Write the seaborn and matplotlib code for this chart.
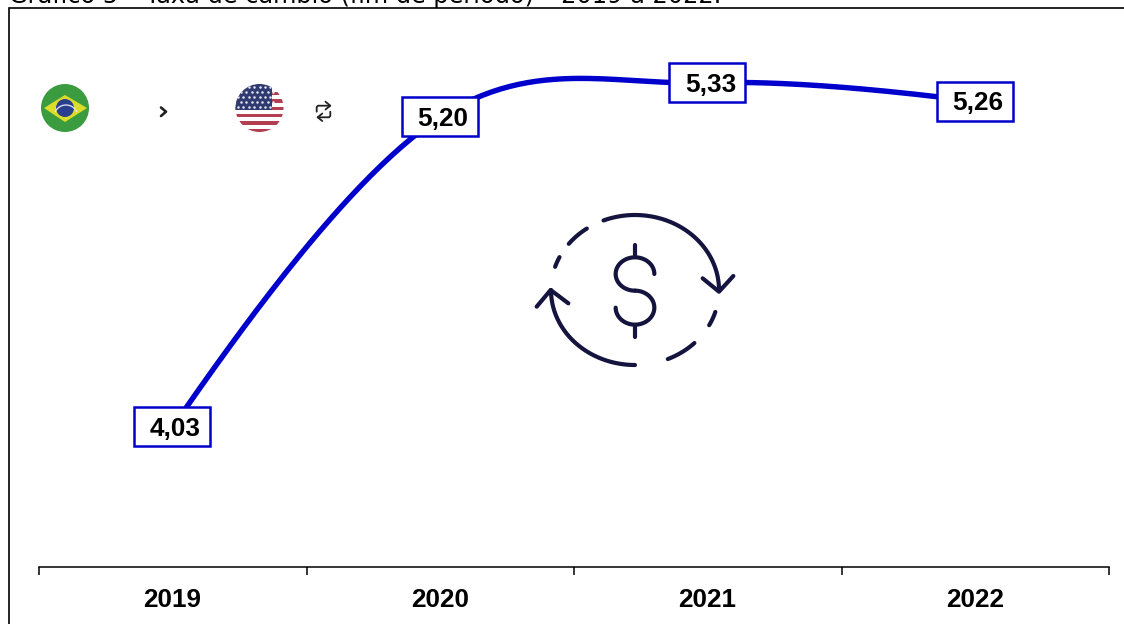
import numpy as np
import pandas as pd
import seaborn as sns
import matplotlib
matplotlib.use("Agg")
import matplotlib.pyplot as plt
from matplotlib.patches import Rectangle, Circle, Polygon
from matplotlib.transforms import Affine2D

years = ["2019", "2020", "2021", "2022"]
rates = [4.03, 5.20, 5.33, 5.26]
labels = ["4,03", "5,20", "5,33", "5,26"]
title = "Gráfico 5 – Taxa de câmbio (fim de período) – 2019 a 2022."

BLUE = "#0000CC"
NAVY = "#14143F"
W, H = 1124, 624

sns.set_theme(style="white")
plt.rcParams["font.family"] = ["Liberation Sans", "DejaVu Sans"]

fig = plt.figure(figsize=(W / 100, H / 100), dpi=100, facecolor="white")
ax = fig.add_axes([39 / W, (H - 567) / H, (1109 - 39) / W, (567 - 7) / H])
ax.set_xlim(0, 4)
ax.set_ylim(3.5, 3.5 + 560 / 264.6)

# positions of the categories; the line is smoothed the way a spreadsheet does it
xpos = np.arange(len(years)) + 0.5
P = ax.transData.transform(np.column_stack([xpos, rates]))  # smooth in display space
n = len(P)
K = 0.175
A = 0.33
sx, sy = [], []
for i in range(n - 1):
    p1, p2 = P[i], P[i + 1]
    c1 = p1 + K * (p2 - P[i - 1]) if i > 0 else None
    c2 = p2 - K * (P[i + 2] - p1) if i < n - 2 else None
    if c1 is None:
        c1 = p1 + A * (c2 - p1)
    if c2 is None:
        c2 = p2 + A * (c1 - p2)
    t = np.linspace(0, 1, 60)[:, None]
    b = (1 - t) ** 3 * p1 + 3 * (1 - t) ** 2 * t * c1 + 3 * (1 - t) * t ** 2 * c2 + t ** 3 * p2
    d = ax.transData.inverted().transform(b)
    sx.extend(d[:, 0])
    sy.extend(d[:, 1])
curve = pd.DataFrame({"x": sx, "y": sy})
sns.lineplot(data=curve, x="x", y="y", sort=False, estimator=None, color=BLUE, lw=3.9, ax=ax, zorder=2)

ax.set_xlim(0, 4)
ax.set_ylim(3.5, 3.5 + 560 / 264.6)
ax.set_xlabel("")
ax.set_ylabel("")
ax.patch.set_alpha(0)
for s in ["top", "left", "right"]:
    ax.spines[s].set_visible(False)
ax.spines["bottom"].set_color("black")
ax.spines["bottom"].set_linewidth(1.1)
ax.set_yticks([])
ax.set_xticks(np.arange(len(years) + 1))
ax.set_xticklabels([])
ax.tick_params(axis="x", which="major", length=6, width=1.1, color="black", bottom=True, direction="out")
ax.set_xticks(xpos, minor=True)
ax.set_xticklabels(years, minor=True, fontsize=18.8, fontweight="bold", color="black")
ax.tick_params(axis="x", which="minor", length=0, pad=15.2, bottom=True)
for lab in ax.get_xticklabels(minor=True):
    lab.set_transform(lab.get_transform() + Affine2D().translate(-0.4, 0))

# value boxes
fig.canvas.draw()
for x, y, lab in zip(xpos, rates, labels):
    px, py = ax.transData.transform((x, y))
    ax.add_patch(Rectangle((-38.6, -19.2), 76, 39, transform=Affine2D().translate(px, py),
                           fc="white", ec=BLUE, lw=1.8, zorder=5, clip_on=False))
    ax.annotate(lab, (x, y), xytext=(1.9, -1.3), textcoords="offset points", ha="center", va="center",
                fontsize=18.8, fontweight="bold", color="black", zorder=6)

# overlay in pixel coordinates: frame, title and pictures
ov = fig.add_axes([0, 0, 1, 1], zorder=3)
ov.set_xlim(0, W)
ov.set_ylim(H, 0)
ov.axis("off")
ov.patch.set_alpha(0)
ov.plot([9, 9, W], [H, 7.5, 7.5], color="black", lw=1.2, solid_joinstyle="miter")
ov.text(9, 3.5, title, fontsize=17.3, family="DejaVu Sans", color="black", ha="left", va="baseline")

# Brazil
c = (65, 108)
ov.add_patch(Circle(c, 24, fc="#3B9C3F", ec="none"))
ov.add_patch(Polygon([(44, 108), (65, 95), (87, 108), (65, 122)], fc="#DCDC2A", ec="none"))
ov.add_patch(Circle(c, 9, fc="#2B3F8F", ec="none"))
t = np.linspace(np.pi * 1.15, np.pi * 1.85, 30)
ov.plot(c[0] + 12 * np.cos(t) + 1, c[1] + 12 * np.sin(t) + 9, color="#E8E8F0", lw=0.9)

# USA
c = (259.5, 108)
clip = Circle(c, 24, transform=ov.transData)
ov.add_patch(Circle(c, 24, fc="white", ec="none"))
for ys in [91.5, 99, 106.5, 113.5, 121, 128.5]:
    r = Rectangle((235, ys), 49, 3.7, fc="#B23F4F", ec="none")
    ov.add_patch(r)
    r.set_clip_path(clip)
r = Rectangle((235, 84), 37, 26, fc="#2F3A70", ec="none")
ov.add_patch(r)
r.set_clip_path(clip)
gx, gy = np.meshgrid(np.arange(238, 272, 5.4), np.arange(87, 110, 5.0))
gx[1::2] += 2.7
pts = ov.scatter(gx.ravel(), gy.ravel(), s=3.2, c="#E8E8F4", linewidths=0, zorder=4)
pts.set_clip_path(clip)

# chevron and swap symbol
ink = dict(color="#222222", solid_capstyle="round", solid_joinstyle="round")
ov.plot([161, 166, 161], [107.5, 111.7, 116], lw=1.9, **ink)
ov.plot([316.7, 316.7, 318, 330], [111.7, 107, 105.7, 105.7], lw=1.3, **ink)
ov.plot([325.5, 330.3, 325.5], [101.7, 105.7, 109.5], lw=1.3, **ink)
ov.plot([330.3, 330.3, 329, 317.7], [111.7, 116, 117.3, 117.3], lw=1.3, **ink)
ov.plot([322.3, 317.7, 322.3], [113.5, 117.3, 121], lw=1.3, **ink)

# exchange icon (zoom coordinates: offset 520,200, scale 3)
def ip(x, y):
    return 520 + np.asarray(x, float) / 3, 200 + np.asarray(y, float) / 3

kw = dict(color=NAVY, lw=3.0, solid_capstyle="round", solid_joinstyle="round")
for a0, a1 in [(112, 0), (125, 142), (154, 162), (180, 270), (293, 315), (332, 343)]:
    a = np.radians(np.linspace(a0, a1, 60))
    ov.plot(*ip(345 + 252 * np.cos(a), 270 - 225 * np.sin(a)), **kw)
ov.plot(*ip([548, 597, 640], [235, 275, 228]), **kw)
ov.plot(*ip([50, 92, 145], [320, 270, 310]), **kw)
ov.plot(*ip([345, 345], [135, 172]), **kw)
ov.plot(*ip([345, 345], [375, 410]), **kw)
a = np.radians(np.linspace(0, 270, 60))
ov.plot(*ip(345 + 58 * np.cos(a), 222 - 50 * np.sin(a)), **kw)
a = np.radians(np.linspace(90, -180, 60))
ov.plot(*ip(345 + 58 * np.cos(a), 323 - 51 * np.sin(a)), **kw)

fig.savefig("out.png", dpi=100)
